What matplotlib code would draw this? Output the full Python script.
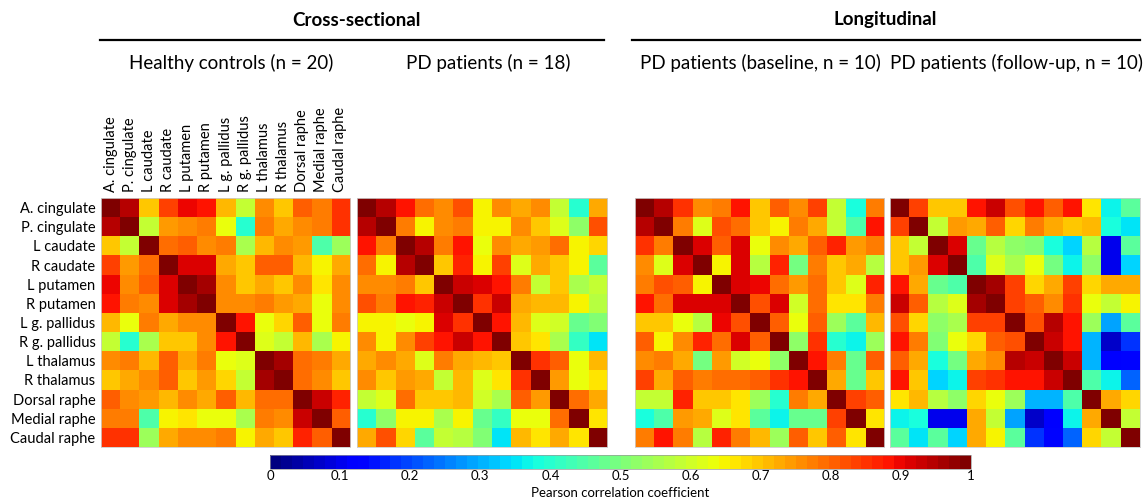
import numpy as np
import matplotlib
matplotlib.use("Agg")
import matplotlib.pyplot as plt
from matplotlib.lines import Line2D

plt.rcParams['font.family'] = ['Lato', 'DejaVu Sans']

regions = ["A. cingulate", "P. cingulate", "L caudate", "R caudate", "L putamen",
           "R putamen", "L g. pallidus", "R g. pallidus", "L thalamus", "R thalamus",
           "Dorsal raphe", "Medial raphe", "Caudal raphe"]

panel_titles = ["Healthy controls (n = 20)", "PD patients (n = 18)",
                "PD patients (baseline, n = 10)", "PD patients (follow-up, n = 10)"]
group_titles = ["Cross-sectional", "Longitudinal"]

# Upper-triangle rows (from the diagonal to the right) of each correlation matrix
healthy_upper = [
    [1, 0.95, 0.70, 0.83, 0.90, 0.88, 0.71, 0.58, 0.75, 0.69, 0.80, 0.77, 0.85],
    [1, 0.58, 0.74, 0.76, 0.78, 0.63, 0.40, 0.78, 0.73, 0.75, 0.78, 0.85],
    [1, 0.79, 0.81, 0.76, 0.77, 0.56, 0.71, 0.75, 0.74, 0.45, 0.54],
    [1, 0.91, 0.92, 0.73, 0.70, 0.80, 0.80, 0.71, 0.65, 0.73],
    [1, 0.96, 0.76, 0.70, 0.72, 0.69, 0.76, 0.66, 0.76],
    [1, 0.76, 0.75, 0.77, 0.74, 0.72, 0.63, 0.76],
    [1, 0.88, 0.63, 0.68, 0.80, 0.63, 0.78],
    [1, 0.62, 0.58, 0.71, 0.55, 0.65],
    [1, 0.96, 0.79, 0.78, 0.72],
    [1, 0.79, 0.76, 0.69],
    [1, 0.93, 0.87],
    [1, 0.80],
    [1],
]

pd_upper = [
    [1, 0.94, 0.88, 0.79, 0.75, 0.82, 0.65, 0.76, 0.72, 0.75, 0.58, 0.40, 0.72],
    [1, 0.78, 0.65, 0.75, 0.77, 0.65, 0.65, 0.76, 0.70, 0.61, 0.52, 0.82],
    [1, 0.94, 0.78, 0.88, 0.63, 0.75, 0.72, 0.74, 0.79, 0.65, 0.68],
    [1, 0.70, 0.86, 0.65, 0.83, 0.62, 0.73, 0.70, 0.65, 0.46],
    [1, 0.93, 0.92, 0.89, 0.77, 0.58, 0.70, 0.55, 0.58],
    [1, 0.85, 0.93, 0.73, 0.71, 0.71, 0.65, 0.57],
    [1, 0.89, 0.71, 0.62, 0.60, 0.48, 0.51],
    [1, 0.70, 0.67, 0.55, 0.42, 0.35],
    [1, 0.85, 0.80, 0.63, 0.71],
    [1, 0.74, 0.63, 0.67],
    [1, 0.79, 0.72],
    [1, 0.67],
    [1],
]

baseline_upper = [
    [1, 0.95, 0.85, 0.76, 0.78, 0.88, 0.69, 0.80, 0.76, 0.84, 0.58, 0.38, 0.78],
    [1, 0.78, 0.62, 0.82, 0.79, 0.69, 0.65, 0.78, 0.72, 0.58, 0.45, 0.88],
    [1, 0.91, 0.80, 0.92, 0.63, 0.76, 0.73, 0.80, 0.86, 0.74, 0.78],
    [1, 0.65, 0.91, 0.57, 0.86, 0.49, 0.77, 0.70, 0.72, 0.57],
    [1, 0.91, 0.90, 0.79, 0.74, 0.79, 0.69, 0.62, 0.86],
    [1, 0.82, 0.92, 0.60, 0.79, 0.67, 0.67, 0.78],
    [1, 0.80, 0.64, 0.80, 0.54, 0.46, 0.71],
    [1, 0.53, 0.85, 0.40, 0.36, 0.54],
    [1, 0.89, 0.78, 0.48, 0.80],
    [1, 0.73, 0.48, 0.70],
    [1, 0.84, 0.80],
    [1, 0.67],
    [1],
]

followup_upper = [
    [1, 0.84, 0.70, 0.69, 0.88, 0.93, 0.82, 0.88, 0.80, 0.89, 0.67, 0.37, 0.46],
    [1, 0.58, 0.74, 0.72, 0.80, 0.68, 0.78, 0.72, 0.70, 0.71, 0.39, 0.35],
    [1, 0.92, 0.48, 0.57, 0.53, 0.51, 0.39, 0.33, 0.57, 0.10, 0.46],
    [1, 0.44, 0.61, 0.55, 0.64, 0.49, 0.36, 0.53, 0.10, 0.33],
    [1, 0.96, 0.83, 0.68, 0.72, 0.83, 0.68, 0.72, 0.72],
    [1, 0.83, 0.80, 0.75, 0.85, 0.63, 0.58, 0.65],
    [1, 0.82, 0.95, 0.89, 0.54, 0.29, 0.46],
    [1, 0.93, 0.89, 0.30, 0.07, 0.18],
    [1, 0.93, 0.30, 0.12, 0.14],
    [1, 0.45, 0.37, 0.22],
    [1, 0.72, 0.68],
    [1, 0.59],
    [1],
]

cbar_ticks = [0, 0.1, 0.2, 0.3, 0.4, 0.5, 0.6, 0.7, 0.8, 0.9, 1]
cbar_ticklabels = ["0", "0.1", "0.2", "0.3", "0.4", "0.5", "0.6", "0.7", "0.8", "0.9", "1"]
cbar_label = "Pearson correlation coefficient"


def full_matrix(upper):
    n = len(upper)
    m = np.zeros((n, n))
    for i, row in enumerate(upper):
        for k, v in enumerate(row):
            j = i + k
            m[i, j] = v
            m[j, i] = v
    return m


mats = [full_matrix(u) for u in (healthy_upper, pd_upper, baseline_upper, followup_upper)]

W, H = 1146, 501
fig = plt.figure(figsize=(W / 100, H / 100), dpi=100)


def px_axes(x0, y0, x1, y1):
    return fig.add_axes([x0 / W, 1 - y1 / H, (x1 - x0) / W, (y1 - y0) / H])


cmap = plt.get_cmap('jet', 64)
boxes = [(101, 198, 350, 447), (357, 198, 607, 447), (635, 198, 884, 447), (890, 198, 1140, 447)]
im = None
for idx, (m, b) in enumerate(zip(mats, boxes)):
    ax = px_axes(*b)
    im = ax.imshow(m, cmap=cmap, vmin=0, vmax=1, aspect='auto', interpolation='nearest')
    ax.set_xticks([])
    ax.set_yticks([])
    for s in ax.spines.values():
        s.set_color('#cccccc')
        s.set_linewidth(0.6)
    if idx == 0:
        ax.set_yticks(range(len(regions)))
        ax.set_yticklabels(regions, fontsize=10.5)
        ax.set_xticks(range(len(regions)))
        ax.set_xticklabels(regions, rotation=90, fontsize=10.5)
        ax.xaxis.tick_top()
        ax.tick_params(length=0, pad=4)

# Colorbar
cax = px_axes(270, 455, 971, 469)
cb = fig.colorbar(im, cax=cax, orientation='horizontal', ticks=cbar_ticks)
cb.ax.set_xticklabels(cbar_ticklabels, fontsize=9.5)
cb.ax.tick_params(length=0, pad=1)
cb.outline.set_linewidth(0.5)
cb.outline.set_edgecolor('#999999')
fig.text(620 / W, 1 - 493 / H, cbar_label, ha='center', va='center', fontsize=9.5)

# Headers
fig.text(356 / W, 1 - 20 / H, group_titles[0], ha='center', va='center', fontsize=13.5, fontweight='bold')
fig.text(885 / W, 1 - 20 / H, group_titles[1], ha='center', va='center', fontsize=13.5, fontweight='bold')
fig.add_artist(Line2D([100 / W, 604 / W], [1 - 40 / H, 1 - 40 / H], color='black', lw=1.6))
fig.add_artist(Line2D([632 / W, 1140 / W], [1 - 40 / H, 1 - 40 / H], color='black', lw=1.6))

title_x = [231, 488, 760, 1016]
for t, x in zip(panel_titles, title_x):
    fig.text(x / W, 1 - 63 / H, t, ha='center', va='center', fontsize=13.5)

fig.savefig('out.png', dpi=100)
